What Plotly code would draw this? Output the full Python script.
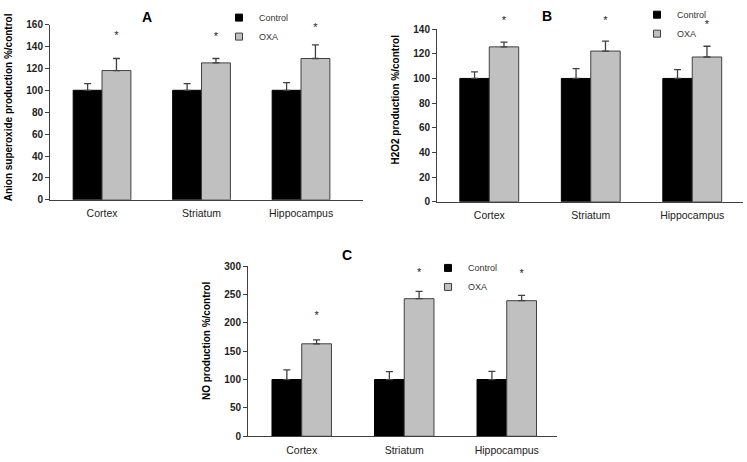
import plotly.graph_objects as go

categories = ["Cortex", "Striatum", "Hippocampus"]
series_names = ["Control", "OXA"]

# Panel A: Anion superoxide production
a_control = [100, 100, 100]
a_control_err = [6, 6, 7]
a_oxa = [118, 125, 129]
a_oxa_err = [11, 4, 12.5]
a_star = [149, 148, 157]

# Panel B: H2O2 production
b_control = [100, 100, 100]
b_control_err = [5.3, 8, 7.2]
b_oxa = [125.6, 122.2, 117.4]
b_oxa_err = [3.9, 8.1, 8.7]
b_star = [146, 146, 143]

# Panel C: NO production
c_control = [100, 100, 100]
c_control_err = [17, 14, 14.5]
c_oxa = [163, 242.5, 239]
c_oxa_err = [7, 13, 9.5]
c_star = [212, 287, 285]

W, H = 747, 462
FONT = "Arial, Liberation Sans, sans-serif"
DARK = "#404040"
GRAY = "#c0c0c0"
BW = 0.29

idx = list(range(len(categories)))


def xdom(a, b):
    return [a / W, b / W]


def ydom(bottom_px, top_px):
    return [1 - bottom_px / H, 1 - top_px / H]


# pixel frames of the three panels: (x left, x right, y bottom, y top, ymax, dtick, xrange)
frames = [
    dict(x0=50, x1=363, yb=198, yt=18, ymax=160, dtick=20, xr=[-0.523, 2.623]),
    dict(x0=437, x1=743, yb=200, yt=22.7, ymax=140, dtick=20, xr=[-0.515, 2.50]),
    dict(x0=248, x1=557, yb=440.7, yt=266, ymax=300, dtick=50, xr=[-0.524, 2.49]),
]

panels = [
    dict(control=a_control, cerr=a_control_err, oxa=a_oxa, oerr=a_oxa_err, star=a_star),
    dict(control=b_control, cerr=b_control_err, oxa=b_oxa, oerr=b_oxa_err, star=b_star),
    dict(control=c_control, cerr=c_control_err, oxa=c_oxa, oerr=c_oxa_err, star=c_star),
]

fig = go.Figure()
layout_axes = {}

xcommon = dict(tickmode="array", tickvals=idx, ticktext=categories, ticks="",
               showline=True, linecolor=DARK, linewidth=1, showgrid=False, zeroline=False,
               tickfont=dict(family=FONT, size=10.5, color="#222"), ticklabelstandoff=4,
               fixedrange=True)
ycommon = dict(ticks="outside", ticklen=4, tickcolor=DARK, tickwidth=1,
               showline=True, linecolor=DARK, linewidth=1, showgrid=False, zeroline=False,
               tickfont=dict(family=FONT, size=10, color="#222", weight="bold"),
               fixedrange=True)

for k, (p, f) in enumerate(zip(panels, frames)):
    n = k + 1
    sfx = "" if n == 1 else str(n)
    xa, ya = "x" + sfx, "y" + sfx
    ys = "y" + str(n + 3)          # helper axis for the asterisks (same scale, taller)
    leg = "legend" + sfx

    layout_axes["xaxis" + sfx] = dict(domain=xdom(f["x0"], f["x1"]), range=f["xr"],
                                      anchor=ya, **xcommon)
    layout_axes["yaxis" + sfx] = dict(domain=ydom(f["yb"], f["yt"]), range=[0, f["ymax"]],
                                      dtick=f["dtick"], anchor=xa, **ycommon)
    ext_top = 0
    layout_axes["yaxis" + str(n + 3)] = dict(
        domain=ydom(f["yb"], ext_top),
        range=[0, f["ymax"] * (f["yb"] - ext_top) / (f["yb"] - f["yt"])],
        anchor=xa, visible=False, fixedrange=True, showgrid=False, zeroline=False)

    fig.add_trace(go.Bar(
        x=idx, y=p["control"], width=BW, offset=-BW, xaxis=xa, yaxis=ya,
        marker=dict(color="black", line=dict(color="black", width=1)),
        error_y=dict(type="data", symmetric=False, array=p["cerr"], arrayminus=[0] * 3,
                     color=DARK, thickness=1.3, width=3.5),
        showlegend=False, name="Control"))
    fig.add_trace(go.Bar(
        x=idx, y=p["oxa"], width=BW, offset=0, xaxis=xa, yaxis=ya,
        marker=dict(color=GRAY, line=dict(color=DARK, width=1)),
        error_y=dict(type="data", symmetric=False, array=p["oerr"], arrayminus=[0] * 3,
                     color=DARK, thickness=1.3, width=3.5),
        showlegend=False, name="OXA"))
    fig.add_trace(go.Scatter(
        x=[i + BW / 2 for i in idx], y=p["star"], mode="text", text=["*"] * 3,
        textposition="middle center", textfont=dict(family=FONT, size=11, color="#222"),
        cliponaxis=False, xaxis=xa, yaxis=ys, showlegend=False, hoverinfo="skip"))
    # legend entries
    fig.add_trace(go.Scatter(
        x=[None], y=[None], mode="markers", name=series_names[0], legend=leg,
        marker=dict(symbol="square", size=7, color="black", line=dict(color="black", width=1)),
        xaxis=xa, yaxis=ya))
    fig.add_trace(go.Scatter(
        x=[None], y=[None], mode="markers", name=series_names[1], legend=leg,
        marker=dict(symbol="square", size=7, color=GRAY, line=dict(color=DARK, width=1)),
        xaxis=xa, yaxis=ya))

fig.update_layout(
    width=W, height=H, autosize=False,
    margin=dict(l=0, r=0, t=0, b=0),
    paper_bgcolor="white", plot_bgcolor="rgba(0,0,0,0)",
    barmode="overlay",
    **layout_axes,
)

legcommon = dict(xanchor="left", yanchor="top", bgcolor="rgba(0,0,0,0)",
                 font=dict(family=FONT, size=9, color="#333"), traceorder="normal",
                 borderwidth=0)
fig.update_layout(
    legend=dict(x=219 / W, y=1 + 4 / H, **legcommon),
    legend2=dict(x=637 / W, y=1 + 7 / H, **legcommon),
    legend3=dict(x=428 / W, y=1 - 253 / H, **legcommon),
)

ann = []
titles = [("A", 147, 10), ("B", 546.7, 9), ("C", 346.7, 255)]
for t, px, py in titles:
    ann.append(dict(text="<b>%s</b>" % t, x=px / W, y=1 - py / H, xref="paper", yref="paper",
                    xanchor="center", yanchor="middle", showarrow=False,
                    font=dict(family=FONT, size=14, color="black")))
ytitles = [("Anion superoxide production %/control", 8, 103),
           ("H2O2 production %/control", 396, 95),
           ("NO production %/control", 206, 343)]
for t, px, py in ytitles:
    ann.append(dict(text="<b>%s</b>" % t, x=px / W, y=1 - py / H, xref="paper", yref="paper",
                    xanchor="center", yanchor="middle", showarrow=False, textangle=-90,
                    font=dict(family=FONT, size=10, color="black")))
fig.update_layout(annotations=ann)

fig.write_html("out.html", config={"displayModeBar": False},
               post_script="document.body.style.margin='0';document.body.style.overflow='hidden';")
